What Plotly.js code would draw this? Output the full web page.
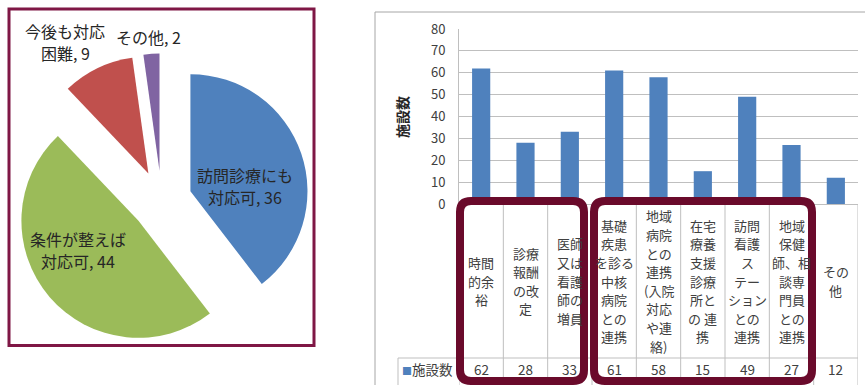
<!DOCTYPE html>
<html>
<head>
<meta charset="utf-8">
<script src="https://cdn.plot.ly/plotly-3.0.1.min.js"></script>
<style>html,body{margin:0;padding:0;background:#fff;}#chart{width:865px;height:385px;}</style>
</head>
<body>
<div id="chart"></div>
<script>
// ---- Pie data ----
var pieLabels = ["訪問診療にも<br>対応可", "条件が整えば<br>対応可", "今後も対応<br>困難", "その他"];
var pieValues = [36, 44, 9, 2];
var pieColors = ["#4f81bd", "#9bbb59", "#c0504d", "#8064a2"];

// ---- Bar data ----
var categories = ["時間的余裕", "診療報酬の改定", "医師又は看護師の増員", "基礎疾患を診る中核病院との連携",
  "地域病院との連携(入院対応や連絡)", "在宅療養支援診療所との連携", "訪問看護ステーションとの連携",
  "地域保健師、相談専門員との連携", "その他"];
var tableLabels = ["時間<br>的余<br>裕", "診療<br>報酬<br>の改<br>定", "医師<br>又は<br>看護<br>師の<br>増員",
  "基礎<br>疾患<br>を診る<br>中核<br>病院<br>との<br>連携",
  "地域<br>病院<br>との<br>連携<br>(入院<br>対応<br>や連<br>絡)",
  "在宅<br>療養<br>支援<br>診療<br>所と<br>の 連<br>携",
  "訪問<br>看護<br>ス<br>テー<br>ション<br>との<br>連携",
  "地域<br>保健<br>師、相<br>談専<br>門員<br>との<br>連携", "その<br>他"];
var barValues = [62, 28, 33, 61, 58, 15, 49, 27, 12];
var seriesName = "施設数";
var yTicks = [0, 10, 20, 30, 40, 50, 60, 70, 80];

// ---- helpers (pixel -> paper) ----
var W = 865, H = 385;
function px(x) { return x / W; }
function py(y) { return 1 - y / H; }

var FONT = "Noto Sans CJK JP, Noto Sans, sans-serif";
var pull = 0.26;
var pieCx = 161.6, pieCy = 201, pieHalf = 147.5;

var traces = [
  {
    type: "pie",
    labels: pieLabels,
    values: pieValues,
    marker: { colors: pieColors, line: { width: 0 } },
    sort: false,
    direction: "clockwise",
    rotation: 0,
    pull: pull,
    textinfo: "none",
    hoverinfo: "label+value",
    showlegend: false,
    domain: { x: [px(pieCx - pieHalf), px(pieCx + pieHalf)], y: [py(pieCy + pieHalf), py(pieCy - pieHalf)] }
  },
  {
    type: "bar",
    x: categories,
    y: barValues,
    name: seriesName,
    marker: { color: "#4f81bd" },
    showlegend: false,
    xaxis: "x",
    yaxis: "y"
  }
];

var annotations = [];
// multi-line text: one annotation per line with explicit spacing
function addLines(text, xref, x, cy, lineH, font) {
  var lines = text.split("<br>");
  var n = lines.length;
  for (var m = 0; m < n; m++) {
    annotations.push({
      xref: xref, yref: "paper", x: x, y: py(cy + (m - (n - 1) / 2) * lineH),
      xanchor: "center", yanchor: "middle", align: "center",
      text: lines[m], showarrow: false, borderpad: 0,
      font: font
    });
  }
}
// pie labels
var pieLabelPos = [[245, 186], [78, 250], [65, 42], [148, 37]];
var pieFont = { family: FONT, size: 16, color: "#262626" };
for (var i = 0; i < pieLabels.length; i++) {
  addLines(pieLabels[i] + ", " + pieValues[i], "paper", px(pieLabelPos[i][0]), pieLabelPos[i][1], 22, pieFont);
}
// y-axis title
annotations.push({
  xref: "paper", yref: "paper", x: px(402), y: py(117),
  text: "<b>" + seriesName + "</b>", textangle: -90, showarrow: false,
  xanchor: "center", yanchor: "middle",
  font: { family: FONT, size: 14, color: "#262626" }
});
// table labels and values
var tblFont = { family: FONT, size: 13, color: "#404040" };
for (var j = 0; j < categories.length; j++) {
  addLines(tableLabels[j], "x", categories[j], 281, 18.6, tblFont);
  annotations.push({
    xref: "x", yref: "paper", x: categories[j], y: py(369),
    xanchor: "center", yanchor: "middle", borderpad: 0,
    text: String(barValues[j]), showarrow: false,
    font: { family: FONT, size: 13.5, color: "#404040" }
  });
}
// legend key in table
annotations.push({
  xref: "paper", yref: "paper", x: px(401), y: py(369),
  xanchor: "left", yanchor: "middle", showarrow: false, borderpad: 0,
  text: '<span style="color:#4f81bd;font-size:10px">■</span>' + seriesName,
  font: { family: FONT, size: 13.5, color: "#404040" }
});

var shapes = [];
// pie frame
shapes.push({ type: "rect", xref: "paper", yref: "paper", x0: px(9), x1: px(314), y0: py(345.5), y1: py(9),
  line: { color: "#7f1745", width: 3 } });
// outer chart border (bar chart)
shapes.push({ type: "line", xref: "paper", yref: "paper", x0: px(375), x1: px(866), y0: py(12), y1: py(12),
  line: { color: "#a6a6a6", width: 1 } });
shapes.push({ type: "line", xref: "paper", yref: "paper", x0: px(375), x1: px(375), y0: py(12), y1: py(386),
  line: { color: "#a6a6a6", width: 1 } });
// table grid
var gridC = "#bfbfbf";
for (var k = 0; k <= categories.length; k++) {
  shapes.push({ type: "line", xref: "x", yref: "paper", x0: k - 0.5, x1: k - 0.5, y0: py(204), y1: py(386),
    line: { color: gridC, width: 1 } });
}
shapes.push({ type: "line", xref: "paper", yref: "paper", x0: px(398), x1: px(858), y0: py(358), y1: py(358),
  line: { color: gridC, width: 1 } });
shapes.push({ type: "line", xref: "paper", yref: "paper", x0: px(398), x1: px(398), y0: py(358), y1: py(386),
  line: { color: gridC, width: 1 } });

// rounded rectangles
function roundRect(x0, y0, x1, y1, r) {
  var p = "M " + px(x0 + r) + "," + py(y0) +
    " L " + px(x1 - r) + "," + py(y0) +
    " Q " + px(x1) + "," + py(y0) + " " + px(x1) + "," + py(y0 + r) +
    " L " + px(x1) + "," + py(y1 - r) +
    " Q " + px(x1) + "," + py(y1) + " " + px(x1 - r) + "," + py(y1) +
    " L " + px(x0 + r) + "," + py(y1) +
    " Q " + px(x0) + "," + py(y1) + " " + px(x0) + "," + py(y1 - r) +
    " L " + px(x0) + "," + py(y0 + r) +
    " Q " + px(x0) + "," + py(y0) + " " + px(x0 + r) + "," + py(y0) + " Z";
  return { type: "path", xref: "paper", yref: "paper", path: p, line: { color: "#6a0a2b", width: 8 }, layer: "above" };
}
shapes.push(roundRect(460, 201, 584, 381, 11));
shapes.push(roundRect(594, 201, 812, 381, 11));

var layout = {
  width: W, height: H,
  margin: { l: 0, r: 0, t: 0, b: 0 },
  paper_bgcolor: "#ffffff", plot_bgcolor: "#ffffff",
  showlegend: false,
  bargap: 0.59,
  font: { family: FONT },
  xaxis: {
    domain: [px(459), px(858)],
    type: "category",
    range: [-0.5, 8.5],
    showticklabels: false, ticks: "",
    showgrid: false, zeroline: false,
    showline: true, linecolor: gridC, linewidth: 1
  },
  yaxis: {
    domain: [py(204), py(29)],
    range: [0, 80],
    tickvals: yTicks,
    ticktext: yTicks.map(String),
    showgrid: true, gridcolor: gridC, gridwidth: 1,
    zeroline: false,
    showline: true, linecolor: gridC, linewidth: 1,
    ticks: "", ticklabelstandoff: 10,
    tickfont: { family: FONT, size: 13, color: "#404040" }
  },
  annotations: annotations,
  shapes: shapes
};

Plotly.newPlot("chart", traces, layout, { displayModeBar: false, staticPlot: true });
</script>
</body>
</html>
